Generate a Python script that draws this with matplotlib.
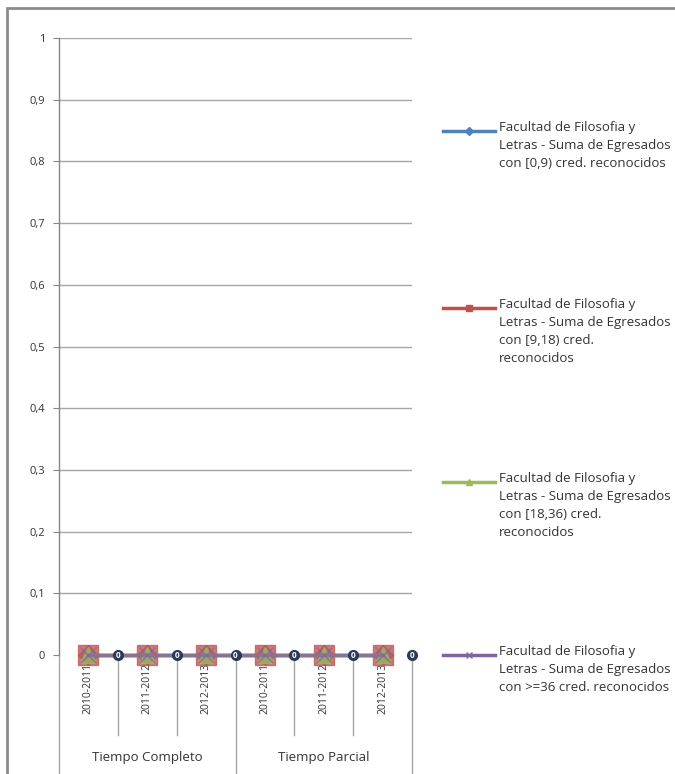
import matplotlib
matplotlib.use("Agg")
import matplotlib.pyplot as plt
from matplotlib.lines import Line2D
from matplotlib.patches import Rectangle
import numpy as np

categories = ["2010-2011", "2011-2012", "2012-2013", "2010-2011", "2011-2012", "2012-2013"]
groups = ["Tiempo Completo", "Tiempo Parcial"]
series_names = [
    "Facultad de Filosofia y\nLetras - Suma de Egresados\ncon [0,9) cred. reconocidos",
    "Facultad de Filosofia y\nLetras - Suma de Egresados\ncon [9,18) cred.\nreconocidos",
    "Facultad de Filosofia y\nLetras - Suma de Egresados\ncon [18,36) cred.\nreconocidos",
    "Facultad de Filosofia y\nLetras - Suma de Egresados\ncon >=36 cred. reconocidos",
]
values_0_9 = [0, 0, 0, 0, 0, 0]
values_9_18 = [0, 0, 0, 0, 0, 0]
values_18_36 = [0, 0, 0, 0, 0, 0]
values_36 = [0, 0, 0, 0, 0, 0]
series_values = [values_0_9, values_9_18, values_18_36, values_36]
yticks = [0, 0.1, 0.2, 0.3, 0.4, 0.5, 0.6, 0.7, 0.8, 0.9, 1]
ytick_labels = ["0", "0,1", "0,2", "0,3", "0,4", "0,5", "0,6", "0,7", "0,8", "0,9", "1"]

colors = ["#4F81BD", "#C0504D", "#9BBB59", "#8064A2"]
markers = ["D", "s", "^", "x"]
msizes = [10, 14, 12, 12]

FONT = ["Open Sans", "DejaVu Sans"]
plt.rcParams["font.family"] = FONT

W, H = 675, 774
fig = plt.figure(figsize=(W / 100, H / 100), dpi=100)
fig.patches.append(Rectangle((7 / W, -0.05), 1.1, 1.05 - 8 / H, transform=fig.transFigure,
                             fill=False, edgecolor="#8C8C8C", linewidth=2, clip_on=False))

ax_l, ax_r, ax_t, ax_b = 59, 412, 38, 655
ax = fig.add_axes([ax_l / W, 1 - ax_b / H, (ax_r - ax_l) / W, (ax_b - ax_t) / H])
ax.set_xlim(0, len(categories))
ax.set_ylim(0, 1)
for s in ["top", "right", "bottom"]:
    ax.spines[s].set_visible(False)
ax.spines["left"].set_color("#868686")
ax.spines["left"].set_linewidth(1)

ax.set_yticks(yticks)
ax.set_yticklabels(ytick_labels, fontsize=8, color="#333333")
ax.tick_params(axis="y", length=4, color="#868686", pad=6)
for y in yticks[1:]:
    ax.axhline(y, color="#A6A6A6", linewidth=1, zorder=0)

ax.set_xticks([])
x = np.arange(len(categories)) + 0.5
for i, vals in enumerate(series_values):
    ax.plot(x, vals, color=colors[i], linewidth=2.5, marker=markers[i], markersize=msizes[i],
            markeredgecolor=colors[i], markerfacecolor=colors[i], alpha=0.75,
            clip_on=False, zorder=3 + i)
# data labels
for xi, v in zip(x, values_36):
    ax.plot(xi + 0.5, v, marker="o", markersize=7, color="#2B3A55", clip_on=False, zorder=8)
    ax.text(xi + 0.5, v, "0", fontsize=6, color="white", ha="center", va="center",
            fontweight="bold", zorder=9, clip_on=False)

axis_h = ax_b - ax_t
# category boundary ticks
for b in range(len(categories) + 1):
    depth = 118 if b % 3 == 0 else 80
    ax.plot([b, b], [0, -depth / axis_h], color="#A6A6A6", linewidth=1, clip_on=False,
            transform=ax.get_xaxis_transform(), zorder=1)
for xi, lab in zip(x, categories):
    ax.text(xi, -8 / axis_h, lab, rotation=90, ha="center", va="top", fontsize=7.5,
            color="#333333", transform=ax.get_xaxis_transform())
for g, name in enumerate(groups):
    ax.text(1.5 + 3 * g, -102 / axis_h, name, ha="center", va="center", fontsize=9.5,
            color="#333333", transform=ax.get_xaxis_transform())

# legend
leg_y = [131, 308, 482, 655]
for i, name in enumerate(series_names):
    y = 1 - leg_y[i] / H
    fig.add_artist(Line2D([443 / W, 495 / W], [y, y], color=colors[i], linewidth=2.5,
                          transform=fig.transFigure))
    fig.add_artist(Line2D([469 / W], [y], color=colors[i], marker=markers[i], markersize=4,
                          transform=fig.transFigure))
    fig.text(499 / W, y + 10 / H, name, fontsize=9.5, color="#333333", ha="left", va="top",
             linespacing=1.5)

fig.savefig("out.png", dpi=100)
